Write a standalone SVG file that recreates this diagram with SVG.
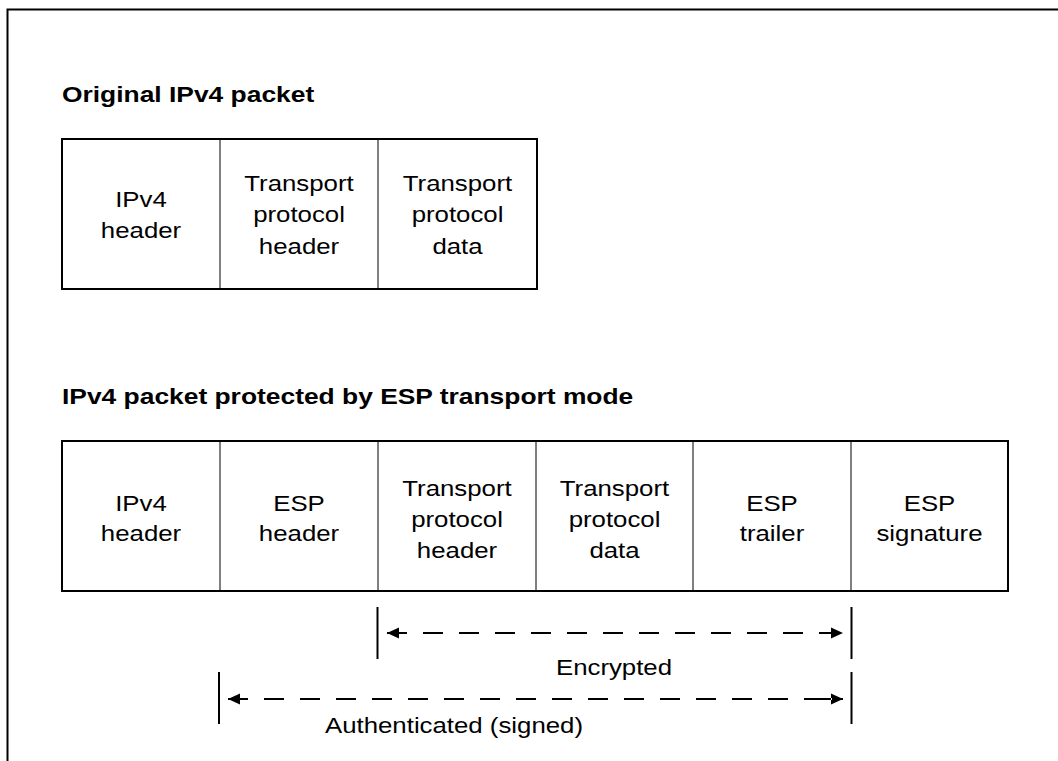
<svg xmlns="http://www.w3.org/2000/svg" width="1058" height="761" viewBox="0 0 1058 761">
<style>
.frame{fill:none;stroke:#000;stroke-width:2}
.box{fill:#fff;stroke:#000;stroke-width:2}
.div{stroke:#000;stroke-width:1}
.t{font-family:"Liberation Sans",Arial,Helvetica,sans-serif;font-size:21.5px;fill:#000;text-anchor:middle}
.h{font-family:"Liberation Sans",Arial,Helvetica,sans-serif;font-size:22px;font-weight:bold;fill:#000}
.bar{stroke:#000;stroke-width:2}
.dash{fill:none;stroke:#000;stroke-width:2;stroke-dasharray:20 16}
</style>
<defs>
<marker id="ah" markerUnits="userSpaceOnUse" viewBox="0 -6 20 12" refX="20" refY="0" markerWidth="20" markerHeight="12" orient="auto-start-reverse">
<path d="M20,0 L8,-5.5 L8,5.5 Z M0,-1 H9 V1 H0 Z" fill="#000"/>
</marker>
</defs>
<rect width="1058" height="761" fill="#fff"/>
<path class="frame" d="M7.5,761 V9.5 H1058"/>

<g id="title1"><text class="h" transform="translate(62 102) scale(1.2 1)">Original IPv4 packet</text></g>

<g id="packet1">
<rect class="box" x="62" y="139" width="475" height="150"/>
<line class="div" x1="220" y1="139" x2="220" y2="289"/>
<line class="div" x1="378" y1="139" x2="378" y2="289"/>
<g id="p1-ipv4"><text class="t" transform="translate(141 207) scale(1.2 1)">IPv4</text><text class="t" transform="translate(141 238) scale(1.2 1)">header</text></g>
<g id="p1-tph"><text class="t" transform="translate(299 191) scale(1.2 1)">Transport</text><text class="t" transform="translate(299 222) scale(1.2 1)">protocol</text><text class="t" transform="translate(299 254) scale(1.2 1)">header</text></g>
<g id="p1-tpd"><text class="t" transform="translate(457.5 191) scale(1.2 1)">Transport</text><text class="t" transform="translate(457.5 222) scale(1.2 1)">protocol</text><text class="t" transform="translate(457.5 254) scale(1.2 1)">data</text></g>
</g>

<g id="title2"><text class="h" transform="translate(62 404) scale(1.2 1)">IPv4 packet protected by ESP transport mode</text></g>

<g id="packet2">
<rect class="box" x="62" y="441" width="946" height="150"/>
<line class="div" x1="220" y1="441" x2="220" y2="591"/>
<line class="div" x1="378" y1="441" x2="378" y2="591"/>
<line class="div" x1="536" y1="441" x2="536" y2="591"/>
<line class="div" x1="693" y1="441" x2="693" y2="591"/>
<line class="div" x1="851" y1="441" x2="851" y2="591"/>
<g id="p2-ipv4"><text class="t" transform="translate(141 511) scale(1.2 1)">IPv4</text><text class="t" transform="translate(141 541) scale(1.2 1)">header</text></g>
<g id="p2-esph"><text class="t" transform="translate(299 511) scale(1.2 1)">ESP</text><text class="t" transform="translate(299 541) scale(1.2 1)">header</text></g>
<g id="p2-tph"><text class="t" transform="translate(457 496) scale(1.2 1)">Transport</text><text class="t" transform="translate(457 527) scale(1.2 1)">protocol</text><text class="t" transform="translate(457 558) scale(1.2 1)">header</text></g>
<g id="p2-tpd"><text class="t" transform="translate(614.5 496) scale(1.2 1)">Transport</text><text class="t" transform="translate(614.5 527) scale(1.2 1)">protocol</text><text class="t" transform="translate(614.5 558) scale(1.2 1)">data</text></g>
<g id="p2-espt"><text class="t" transform="translate(772 511) scale(1.2 1)">ESP</text><text class="t" transform="translate(772 541) scale(1.2 1)">trailer</text></g>
<g id="p2-esps"><text class="t" transform="translate(929.5 511) scale(1.2 1)">ESP</text><text class="t" transform="translate(929.5 541) scale(1.2 1)">signature</text></g>
</g>

<g id="connectors">
<line class="bar" x1="377.5" y1="607" x2="377.5" y2="659"/>
<line class="bar" x1="851.5" y1="607" x2="851.5" y2="659"/>
<path class="dash" d="M387,633 H843" marker-start="url(#ah)" marker-end="url(#ah)"/>
<line class="bar" x1="219" y1="672" x2="219" y2="724"/>
<line class="bar" x1="851.5" y1="672" x2="851.5" y2="724"/>
<path class="dash" d="M228,699 H843" marker-start="url(#ah)" marker-end="url(#ah)"/>
</g>
<g id="labels">
<text class="t" transform="translate(614 675) scale(1.2 1)">Encrypted</text>
<text class="t" transform="translate(454 733) scale(1.2 1)">Authenticated (signed)</text>
</g>
</svg>
